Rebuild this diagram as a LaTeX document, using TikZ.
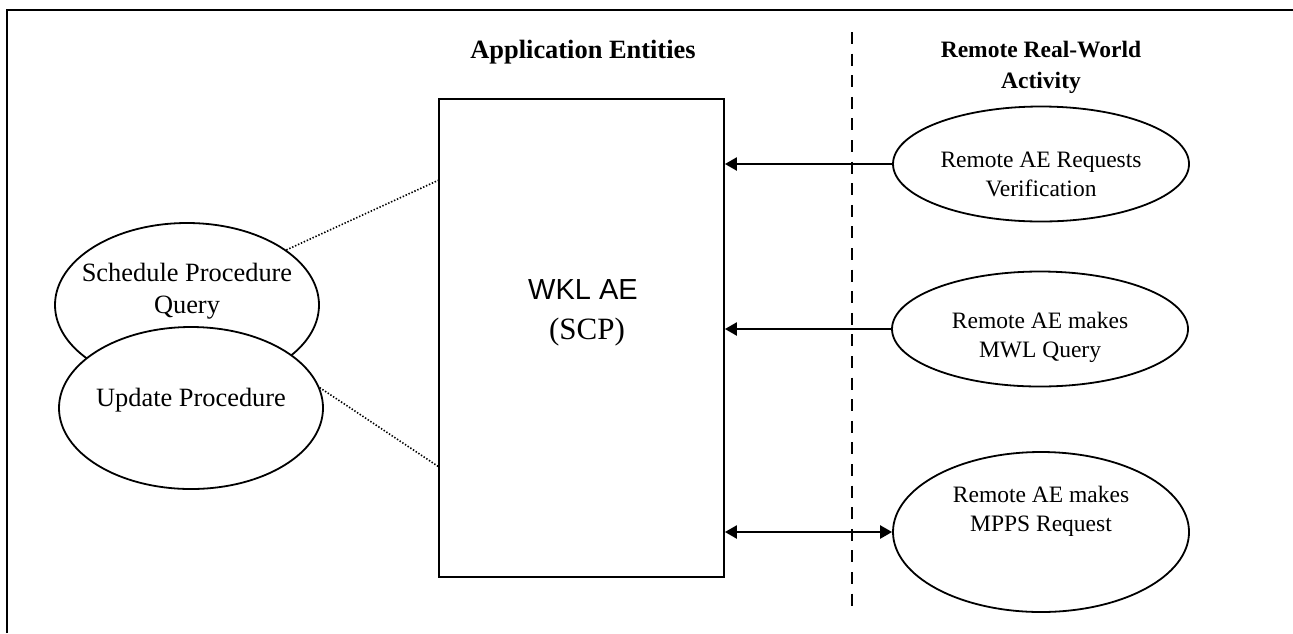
\documentclass[tikz,border=0pt]{standalone}
\usepackage{fontspec}
\setmainfont{Liberation Serif}
\newfontfamily\arialfont{Liberation Sans}
\usetikzlibrary{shapes.geometric,arrows.meta}

\begin{document}
\begin{tikzpicture}[x=0.5pt,y=0.5pt,yscale=-1,xscale=1,
    usecase/.style={draw,ellipse,line width=0.9pt,fill=white,inner sep=0pt},
    entity/.style={draw,rectangle,line width=0.9pt,inner sep=0pt},
    caption/.style={font=\fontsize{11.75}{14.5}\selectfont,align=center,inner sep=0.75pt},
    bigcaption/.style={font=\fontsize{13.2}{16}\selectfont,align=center,inner sep=0.75pt},
    heading/.style={font=\fontsize{11.75}{15.5}\selectfont\bfseries,align=center,inner sep=0.75pt},
    msg/.style={line width=1.2pt,-{Triangle[length=6pt,width=6.5pt]}},
    msgboth/.style={line width=1.2pt,{Triangle[length=6pt,width=6.5pt]}-{Triangle[length=6pt,width=6.5pt]}},
    link/.style={line width=0.8pt,dash pattern={on 0.7pt off 0.9pt}},
    divider/.style={line width=1pt,dash pattern={on 6pt off 4.8pt}}]
  \useasboundingbox (0,0) rectangle (1293,633);

  %Frame
  \draw [line width=1.1pt] (7,633) -- (7,10) -- (1293,10);

  % Text Node
  \node [heading,font=\fontsize{13.2}{16}\selectfont\bfseries] (apptitle) at (583,52) {Application Entities};
  % Text Node
  \node [heading] (remtitle) at (1041,67) {Remote Real-World\\Activity};

  %Straight Lines
  \coordinate (septop) at (852,32);
  \coordinate (sepbot) at (852,612);
  \draw [divider] (septop) -- (sepbot);

  %Shape: Rectangle
  \node [entity,minimum width=142.5pt,minimum height=239pt] (wkl) at (581.5,338) {};
  \node [font=\arialfont\fontsize{14.5}{17}\selectfont,inner sep=0.75pt] (wkltxt) at (583,290) {WKL AE};
  \node [font=\fontsize{15.5}{18}\selectfont,inner sep=0.75pt] (scptxt) at (587,332) {(SCP)};

  %Shape: Ellipse
  \node [usecase,minimum width=132pt,minimum height=82pt] (sched) at (187,305) {};
  \node [usecase,minimum width=132pt,minimum height=81pt] (update) at (191,408) {};
  \node [bigcaption] (schedtxt) at (187,291) {Schedule Procedure\\Query};
  \node [bigcaption] (updatetxt) at (191,400) {Update Procedure};

  %Shape: Ellipse
  \node [usecase,minimum width=148pt,minimum height=57.5pt] (verif) at (1041,164) {};
  \node [usecase,minimum width=148pt,minimum height=57.5pt] (mwl) at (1040,329) {};
  \node [usecase,minimum width=148pt,minimum height=80pt] (mpps) at (1041,532) {};
  \node [caption] (veriftxt) at (1041,174) {Remote AE Requests\\Verification};
  \node [caption] (mwltxt) at (1040,337) {Remote AE makes\\MWL Query};
  \node [caption] (mppstxt) at (1041,511) {Remote AE makes\\MPPS Request};

  %Dotted Lines
  \coordinate (linkup) at (439,180);
  \coordinate (linkdown) at (439,467);
  \draw [link] (sched.29) -- (linkup);
  \draw [link] (update.9) -- (linkdown);

  %Arrows
  \draw [msg] (verif.west) -- (verif.west -| wkl.east);
  \draw [msg] (mwl.west) -- (mwl.west -| wkl.east);
  \draw [msgboth] (mpps.west) -- (mpps.west -| wkl.east);

\end{tikzpicture}
\end{document}
